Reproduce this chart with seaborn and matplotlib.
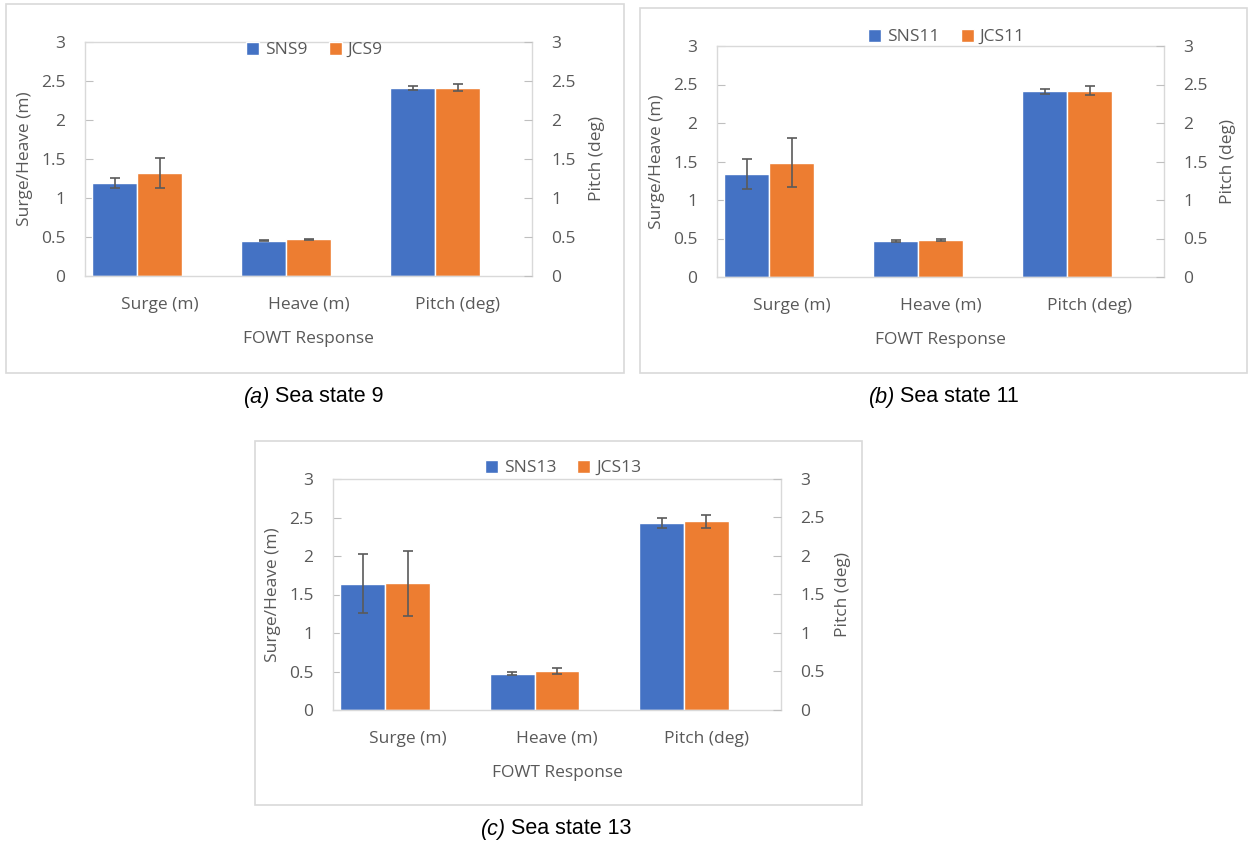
import pandas as pd
import seaborn as sns
import matplotlib.pyplot as plt
from matplotlib.patches import Patch, Rectangle

# 데이터
categories = ['Surge (m)', 'Heave (m)', 'Pitch (deg)']

sns9 = [1.19, 0.455, 2.41]
sns9_err = [0.065, 0.01, 0.02]
jcs9 = [1.32, 0.468, 2.415]
jcs9_err = [0.19, 0.01, 0.045]

sns11 = [1.34, 0.466, 2.41]
sns11_err = [0.195, 0.01, 0.037]
jcs11 = [1.483, 0.483, 2.422]
jcs11_err = [0.32, 0.015, 0.062]

sns13 = [1.641, 0.471, 2.432]
sns13_err = [0.385, 0.017, 0.067]
jcs13 = [1.646, 0.505, 2.449]
jcs13_err = [0.42, 0.043, 0.086]

y_ticks = [0, 0.5, 1, 1.5, 2, 2.5, 3]
y_ticklabels = ['0', '0.5', '1', '1.5', '2', '2.5', '3']

sns.set_style('white')
plt.rcParams['font.family'] = ['Open Sans', 'DejaVu Sans']

W, H = 1253, 844
fig = plt.figure(figsize=(W / 100, H / 100), dpi=100)

BLUE = '#4472C4'
ORANGE = '#ED7D31'
TXT = '#595959'
GRID = '#D9D9D9'


def fx(x):
    return x / W


def fy(y):
    return 1 - y / H


# 패널 배치 (픽셀 단위)
panels = [
    dict(name=('SNS9', 'JCS9'), vals=(sns9, jcs9), errs=(sns9_err, jcs9_err),
         box=(6, 4, 624, 373), plot=(85, 42, 532, 276), ylab=25, rlab=597, leg=50,
         cap=(270, 397), tag='(a)', caption='Sea state 9'),
    dict(name=('SNS11', 'JCS11'), vals=(sns11, jcs11), errs=(sns11_err, jcs11_err),
         box=(640, 8, 1247, 373), plot=(717, 46, 1164, 277), ylab=657, rlab=1228, leg=37,
         cap=(895, 397), tag='(b)', caption='Sea state 11'),
    dict(name=('SNS13', 'JCS13'), vals=(sns13, jcs13), errs=(sns13_err, jcs13_err),
         box=(255, 441, 862, 805), plot=(333, 479, 781, 710), ylab=273, rlab=843, leg=468,
         cap=(506, 829), tag='(c)', caption='Sea state 13'),
]

for p in panels:
    x0, y0, x1, y1 = p['box']
    fig.patches.append(Rectangle((fx(x0), fy(y1)), fx(x1 - x0), (y1 - y0) / H,
                                 transform=fig.transFigure, fill=False,
                                 edgecolor=GRID, linewidth=1.2))

    l, t, r, b = p['plot']
    ax = fig.add_axes([fx(l), fy(b), fx(r - l), (b - t) / H])

    sname, jname = p['name']
    df = pd.DataFrame({
        'Response': categories * 2,
        'Value': list(p['vals'][0]) + list(p['vals'][1]),
        'Series': [sname] * 3 + [jname] * 3,
    })
    # 세 번째 (빈) 자리: 보조축 계열 자리 확보
    sns.barplot(data=df, x='Response', y='Value', hue='Series',
                hue_order=[sname, jname, 'pad'],
                palette={sname: BLUE, jname: ORANGE, 'pad': 'white'},
                saturation=1, width=0.9, edgecolor='white', linewidth=1.0,
                legend=False, ax=ax)

    for cont, err in zip(ax.containers, p['errs']):
        xs = [bar.get_x() + bar.get_width() / 2 for bar in cont]
        ys = [bar.get_height() for bar in cont]
        ax.errorbar(xs, ys, yerr=err, fmt='none', ecolor='#5A5A5A',
                    elinewidth=1.2, capsize=3.5, capthick=1.2)

    ax.set_ylim(0, 3)
    ax.set_xlim(-0.5, 2.5)
    ax.set_yticks(y_ticks)
    ax.set_yticklabels(y_ticklabels)
    ax.tick_params(axis='y', direction='in', length=6, color='#BFBFBF',
                   labelsize=12.5, labelcolor=TXT, pad=14, left=True)
    ax.tick_params(axis='x', length=0, labelsize=12.5, labelcolor=TXT, pad=15)
    for s in ax.spines.values():
        s.set_visible(True)
        s.set_color(GRID)
        s.set_linewidth(1.0)

    ax.set_xlabel('FOWT Response', fontsize=12.5, color=TXT, labelpad=13)
    ax.set_ylabel('Surge/Heave (m)', fontsize=12.5, color=TXT)
    ax.yaxis.set_label_coords((p['ylab'] + 8 - l) / (r - l), 0.5)

    ax2 = ax.twinx()
    ax2.set_ylim(0, 3)
    ax2.set_yticks(y_ticks)
    ax2.set_yticklabels(y_ticklabels)
    ax2.tick_params(axis='y', direction='in', length=6, color='#BFBFBF',
                    labelsize=12.5, labelcolor=TXT, pad=14, right=True)
    for s in ax2.spines.values():
        s.set_visible(False)
    ax2.set_ylabel('Pitch (deg)', fontsize=12.5, color=TXT)
    ax2.yaxis.set_label_coords((p['rlab'] - 8 - l) / (r - l), 0.5)

    handles = [Patch(facecolor=BLUE, label=sname), Patch(facecolor=ORANGE, label=jname)]
    fig.legend(handles=handles, loc='center', ncol=2, frameon=False,
               bbox_to_anchor=(fx((l + r) / 2 + 6), fy(p['leg'])),
               fontsize=12.5, labelcolor=TXT, handlelength=0.75, handleheight=0.75,
               handletextpad=0.35, columnspacing=1.2, borderpad=0)

    cx, cy = p['cap']
    fig.text(fx(cx), fy(cy), p['tag'], ha='right', va='center', style='italic',
             fontsize=15.5, family='Liberation Sans', color='black')
    fig.text(fx(cx + 5), fy(cy), p['caption'], ha='left', va='center',
             fontsize=15.5, family='Liberation Sans', color='black')

fig.savefig('out.png', dpi=100)
